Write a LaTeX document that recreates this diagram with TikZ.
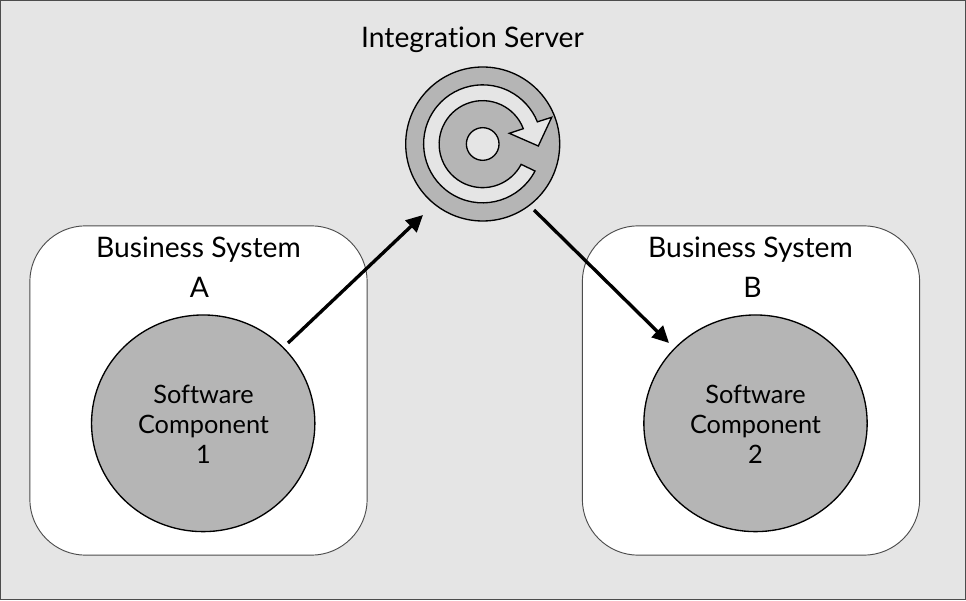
\documentclass[tikz,border=0pt]{standalone}
\usepackage{fontspec}
\setmainfont[Ligatures=NoCommon]{Lato}
\usetikzlibrary{arrows.meta,shapes.geometric}
\definecolor{bgc}{HTML}{E5E5E5}
\definecolor{grayc}{HTML}{B5B5B5}
\tikzset{
  sysbox/.style={draw=black!70,line width=.7pt,fill=white,rounded corners=42pt,minimum width=253pt,minimum height=247pt,inner sep=0pt},
  comp/.style={ellipse,draw=black,line width=1pt,fill=grayc,minimum width=167.5pt,minimum height=162.5pt,inner sep=0pt},
  lab/.style={font=\fontsize{21.2}{24}\selectfont,inner sep=0pt,anchor=base},
  clab/.style={font=\fontsize{19}{22.5}\selectfont,align=center,inner sep=0pt},
  flow/.style={line width=2.5pt,-{Triangle[length=12.5pt,width=12pt]}},
  ic/.style={draw=black,line width=1pt}
}
\begin{document}
\begin{tikzpicture}[x=.75pt,y=.75pt]
\useasboundingbox (0,0) rectangle (966,600);
\node[draw=black!70,line width=.8pt,fill=bgc,minimum width=723.5pt,minimum height=449pt,inner sep=0pt] (bg) at (483,300) {};
\node[sysbox] (sysa) at (198.5,209.5) {};
\node[sysbox] (sysb) at (751,209.5) {};
\node[comp] (sc1) at (203.2,176.7) {};
\node[comp] (sc2) at (755.5,176.7) {};
\node[clab] (t1) at (203.5,176) {Software\\Component\\1};
\node[clab] (t2) at (755.5,176) {Software\\Component\\2};
\node[lab] (ba) at (198.5,342) {Business System};
\node[lab] (la) at (199.5,302) {A};
\node[lab] (bb) at (750.5,342) {Business System};
\node[lab] (lb) at (752.5,302) {B};
\node[lab] (is) at (472.5,552.5) {Integration Server};
% icon
\node[circle,ic,fill=grayc,minimum size=115.5pt,inner sep=0pt] (icon) at (482.7,456) {};
\draw[ic,fill=bgc] (535,429) arc[start angle=-27.4,end angle=-338.1,radius=59]
  -- (551.7,482.7) -- (538.3,454) -- (509.3,466.7) -- (523.3,471.3)
  arc[start angle=20.8,end angle=332.3,radius=43.5] -- cycle;
\node[circle,ic,fill=bgc,minimum size=24.5pt,inner sep=0pt] (hole) at (482.7,456) {};
% connectors
\coordinate (s1) at (288,257);
\coordinate (e1) at (423,385);
\coordinate (s2) at (534,390);
\coordinate (e2) at (669,257);
\draw[flow] (s1) -- (e1);
\draw[flow] (s2) -- (e2);
\end{tikzpicture}
\end{document}
